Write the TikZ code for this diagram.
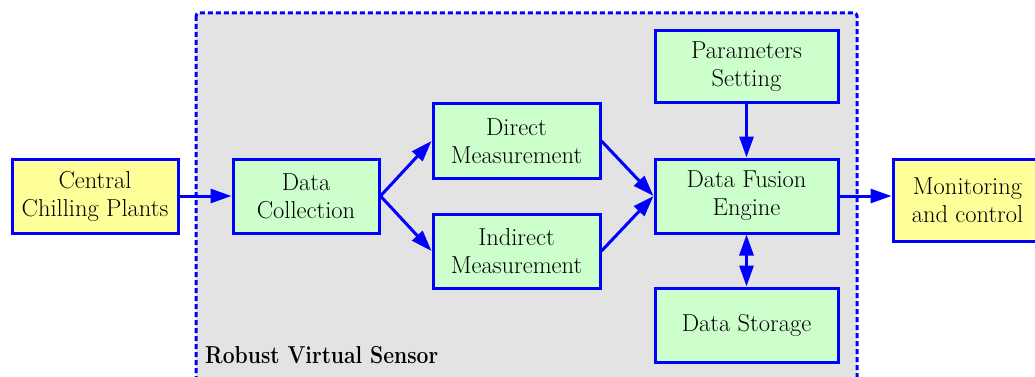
\documentclass[tikz,border=0pt]{standalone}
\usetikzlibrary{arrows.meta}
\definecolor{boxblue}{RGB}{0,0,255}
\definecolor{boxgreen}{RGB}{204,255,204}
\definecolor{boxyellow}{RGB}{255,255,153}
\definecolor{panelgray}{RGB}{227,227,227}
\tikzset{
  blk/.style={draw=boxblue, line width=3pt, align=center, inner sep=0pt,
    font=\fontsize{24.5}{28}\selectfont},
  grn/.style={blk, fill=boxgreen},
  ylw/.style={blk, fill=boxyellow},
  conn/.style={draw=boxblue, line width=3pt, -{Triangle[length=21pt,width=14pt]}},
  dconn/.style={draw=boxblue, line width=3pt, {Triangle[length=21pt,width=14pt]}-{Triangle[length=21pt,width=14pt]}},
  panel/.style={draw=boxblue, fill=panelgray, line width=3pt, dash pattern=on 5pt off 3pt, rounded corners=3pt}
}
\begin{document}
\begin{tikzpicture}[x=1pt,y=-1pt]
\useasboundingbox (0,0) rectangle (1035,377);
\fill[white] (0,0) rectangle (1035,377);
\draw[panel] (196,13) rectangle (857,420);
\node[ylw, minimum width=166pt, minimum height=74pt] (ccp) at (95,196) {Central\\Chilling Plants};
\node[grn, minimum width=146pt, minimum height=74pt] (dc) at (306,196) {Data\\Collection};
\node[grn, minimum width=167pt, minimum height=74pt] (dm) at (516.5,141) {Direct\\Measurement};
\node[grn, minimum width=167pt, minimum height=74pt] (im) at (516.5,251) {Indirect\\Measurement};
\node[grn, minimum width=183pt, minimum height=72pt] (ps) at (746.5,67) {Parameters\\Setting};
\node[grn, minimum width=183pt, minimum height=74pt] (dfe) at (746.5,196) {Data Fusion\\Engine};
\node[grn, minimum width=183pt, minimum height=74pt] (ds) at (746.5,325) {Data Storage};
\node[ylw, minimum width=149pt, minimum height=82pt] (mc) at (967.5,200) {Monitoring\\and control};
\node[anchor=base west, font=\fontsize{24.5}{28}\selectfont\bfseries, inner sep=0pt] (lbl) at (205,363) {\scalebox{0.86}[1]{Robust Virtual Sensor}};
\draw[conn] (ccp.east) -- (dc.west);
\draw[conn] (dc.east) -- (dm.west);
\draw[conn] (dc.east) -- (im.west);
\draw[conn] (dm.east) -- (dfe.west);
\draw[conn] (im.east) -- (dfe.west);
\draw[conn] (ps.south) -- (dfe.north);
\draw[dconn] (dfe.south) -- (ds.north);
\draw[conn] (dfe.east) -- (mc.west |- dfe.east);
\end{tikzpicture}
\end{document}
